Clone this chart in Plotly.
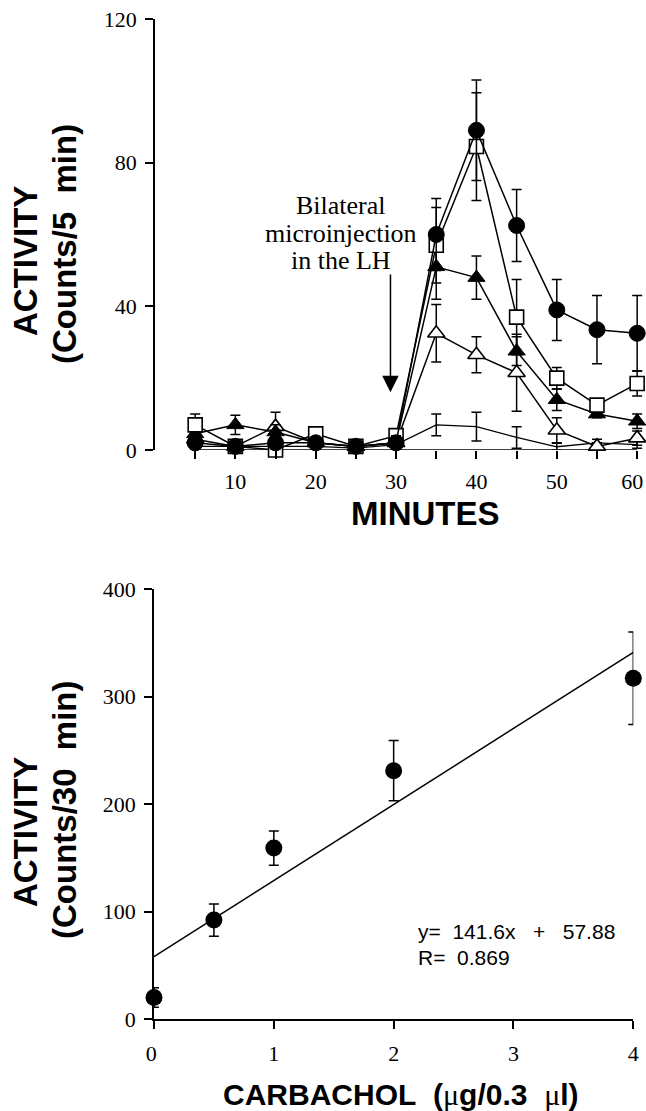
import plotly.graph_objects as go

# ---------------- data: top panel (time course) ----------------
minutes = [5, 10, 15, 20, 25, 30, 35, 40, 45, 50, 55, 60]
minute_tick_text = ["", "10", "", "20", "", "30", "", "40", "", "50", "", "60\u00a0\u2009"]

circle_vals = [2, 1, 2, 2, 1, 2, 60, 89, 62.5, 39, 33.5, 32.5]
circle_err = [2, 1, 2, 1, 1, 2, 10, 14, 10, 8.5, 9.5, 10.5]
square_vals = [7, 1, 0, 4.5, 1, 4, 57, 84.5, 37, 20, 12.5, 18.5]
square_err = [3, 1, 1, 1.5, 1, 1, 10.5, 15, 10.5, 3, 1, 3.5]
ftri_vals = [4.5, 7, 5, 2, 1, 2, 51, 48, 27.5, 14, 10, 8]
ftri_err = [2, 2.7, 2, 1, 1, 1, 9, 6, 4, 3, 1, 2]
otri_vals = [3, 1, 6.5, 2, 1, 2, 32.5, 26.5, 21.5, 5.5, 1, 3.3]
otri_err = [1.5, 1, 4, 1, 1, 1, 8, 5, 10.7, 3.5, 1, 2]
plain_vals = [1, 1, 1, 1, 0.5, 1.5, 7, 6.5, 3.5, 0.9, 2, 1.5]
plain_err = [1, 1, 1, 1, 0.5, 1, 3, 4, 3, 1, 1, 1]
zero_vals = [0, 0, 0, 0, 0, 0, 0, 0, 0, 0, 0, 0]
top_yticks = [0, 40, 80, 120]

# ---------------- data: bottom panel (dose response) ----------------
dose = [0, 0.5, 1, 2, 4]
dose_activity = [20, 92, 159, 231, 317]
dose_err = [9, 15, 16, 28, 43]
fit_x = [0, 4]
fit_y = [58, 341]
bottom_xticks = [0, 1, 2, 3, 4]
bottom_xtick_text = ["0\u00a0", "1", "2", "3", "4"]
bottom_yticks = [0, 100, 200, 300, 400]

W, H = 646, 1111
def fx(p):
    return p / W
def fy(p):
    return 1 - p / H

SERIF = "Liberation Serif"
SANS = "Liberation Sans"
BLK = "black"

fig = go.Figure()

def err(vals):
    return dict(type="data", array=vals, visible=True, color=BLK, thickness=1.5, width=5)

# top panel traces
fig.add_trace(go.Scatter(x=minutes, y=zero_vals, mode="lines", line=dict(color=BLK, width=1.5),
                         xaxis="x", yaxis="y", cliponaxis=False))
fig.add_trace(go.Scatter(x=minutes, y=plain_vals, mode="lines", line=dict(color=BLK, width=1.3),
                         error_y=err(plain_err), xaxis="x", yaxis="y", cliponaxis=False))
fig.add_trace(go.Scatter(x=minutes, y=otri_vals, mode="lines+markers", line=dict(color=BLK, width=1.5),
                         marker=dict(symbol="triangle-up", size=15, color="white", line=dict(color=BLK, width=1.6)),
                         error_y=err(otri_err), xaxis="x", yaxis="y", cliponaxis=False))
fig.add_trace(go.Scatter(x=minutes, y=ftri_vals, mode="lines+markers", line=dict(color=BLK, width=1.5),
                         marker=dict(symbol="triangle-up", size=15, color=BLK, line=dict(color=BLK, width=1)),
                         error_y=err(ftri_err), xaxis="x", yaxis="y", cliponaxis=False))
fig.add_trace(go.Scatter(x=minutes, y=square_vals, mode="lines+markers", line=dict(color=BLK, width=1.5),
                         marker=dict(symbol="square", size=14, color="white", line=dict(color=BLK, width=1.6)),
                         error_y=err(square_err), xaxis="x", yaxis="y", cliponaxis=False))
fig.add_trace(go.Scatter(x=minutes, y=circle_vals, mode="lines+markers", line=dict(color=BLK, width=1.5),
                         marker=dict(symbol="circle", size=16, color=BLK, line=dict(color=BLK, width=1)),
                         error_y=err(circle_err), xaxis="x", yaxis="y", cliponaxis=False))

# bottom panel traces
fig.add_trace(go.Scatter(x=fit_x, y=fit_y, mode="lines", line=dict(color=BLK, width=1.5),
                         xaxis="x2", yaxis="y2", cliponaxis=False))
fig.add_trace(go.Scatter(x=dose, y=dose_activity, mode="markers",
                         marker=dict(symbol="circle", size=17, color=BLK),
                         error_y=err(dose_err), xaxis="x2", yaxis="y2", cliponaxis=False))

tickfont = dict(family=SERIF, size=22, color=BLK)
axis_common = dict(showgrid=False, zeroline=False, ticks="outside", ticklen=8, tickwidth=1.5,
                   tickcolor=BLK, linecolor=BLK, linewidth=1.5, tickfont=tickfont, fixedrange=True,
                   automargin=False, ticklabeloverflow="allow")

fig.update_layout(
    width=W, height=H,
    margin=dict(l=0, r=0, t=0, b=0, pad=0, autoexpand=False),
    paper_bgcolor="white", plot_bgcolor="white",
    showlegend=False,
    xaxis=dict(domain=[fx(155), fx(645.2)], range=[0, 61], showline=False,
               tickmode="array", tickvals=minutes, ticktext=minute_tick_text,
               anchor="y", ticklabelstandoff=4, **axis_common),
    yaxis=dict(domain=[fy(450), fy(19)], range=[0, 120], showline=True,
               tickmode="array", tickvals=top_yticks, anchor="x", ticklabelstandoff=4, **axis_common),
    xaxis2=dict(domain=[fx(154), fx(633.3)], range=[0, 4], showline=True,
                tickmode="array", tickvals=bottom_xticks, ticktext=bottom_xtick_text,
                anchor="y2", ticklabelstandoff=6, **axis_common),
    yaxis2=dict(domain=[fy(1019), fy(589)], range=[0, 400], showline=True,
                tickmode="array", tickvals=bottom_yticks, anchor="x2", ticklabelstandoff=4, **axis_common),
)

bold = dict(family=SANS, size=33, color=BLK)
bold_x2 = dict(family=SANS, size=30, color=BLK)
NB = "\u00a0"
annotations = [
    # top y title
    (dict(text="<b>ACTIVITY</b>", x=fx(25), y=fy(261), textangle=-90), bold),
    (dict(text="<b>(Counts/5" + NB * 2 + "min)</b>", x=fx(64), y=fy(244), textangle=-90), bold),
    # bottom y title
    (dict(text="<b>ACTIVITY</b>", x=fx(25), y=fy(832), textangle=-90), bold),
    (dict(text="<b>(Counts/30" + NB * 2 + "min)</b>", x=fx(64), y=fy(810), textangle=-90), bold),
    # x titles
    (dict(text="<b>MINUTES</b>", x=fx(426), y=fy(513)), bold),
    (dict(text="<b>CARBACHOL" + NB * 2 + "(</b><span style='font-family:Liberation Serif'>μ</span><b>g/0.3"
               + NB * 2 + "</b><span style='font-family:Liberation Serif'>μ</span><b>l)</b>",
          x=fx(401), y=fy(1094)), bold_x2),
]
for a, f in annotations:
    fig.add_annotation(xref="paper", yref="paper", showarrow=False, xanchor="center", yanchor="middle",
                       font=f, **a)

# injection label lines
label_lines = ["Bilateral", "microinjection", "in the LH"]
label_y = [205, 234, 260]
for txt, py in zip(label_lines, label_y):
    fig.add_annotation(xref="paper", yref="paper", x=fx(341), y=fy(py), text=txt, showarrow=False,
                       xanchor="center", yanchor="middle", font=dict(family=SERIF, size=26, color=BLK))

# injection arrow
fig.add_annotation(xref="x", yref="y", axref="x", ayref="y", x=29.3, y=16.1, ax=29.3, ay=49.3,
                   text="", showarrow=True, arrowhead=2, arrowsize=2.2, arrowwidth=1.5, arrowcolor=BLK,
                   standoff=0, startstandoff=0)

# regression text
eq_font = dict(family=SANS, size=21, color=BLK)
fig.add_annotation(xref="paper", yref="paper", x=fx(416), y=fy(931), xanchor="left", yanchor="middle",
                   text="y=" + NB * 2 + "141.6x" + NB * 3 + "+" + NB * 3 + "57.88", showarrow=False, font=eq_font)
fig.add_annotation(xref="paper", yref="paper", x=fx(416), y=fy(957), xanchor="left", yanchor="middle",
                   text="R=" + NB * 2 + "0.869", showarrow=False, font=eq_font)

fig.write_html("out.html", config={"displayModeBar": False},
               post_script="document.body.style.margin='0';document.body.style.overflow='hidden';")
